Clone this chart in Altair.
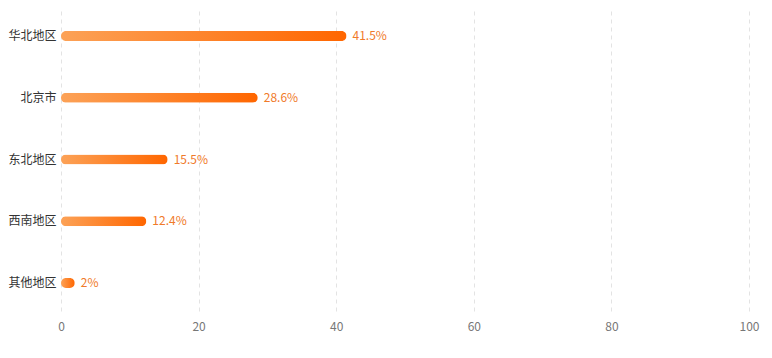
import altair as alt
import pandas as pd

regions = ["华北地区", "北京市", "东北地区", "西南地区", "其他地区"]
values = [41.5, 28.6, 15.5, 12.4, 2]
labels = ["41.5%", "28.6%", "15.5%", "12.4%", "2%"]

df = pd.DataFrame({"region": regions, "value": values, "label": labels})

FONT = "Noto Sans CJK SC"

y_enc = alt.Y("region:N", sort=None, title=None,
              scale=alt.Scale(paddingInner=0.5, paddingOuter=0.2034),
              axis=alt.Axis(domain=False, ticks=False, labelPadding=5,
                            labelFontSize=12, labelColor="#333333", labelFont=FONT))

bars = alt.Chart(df).mark_bar(
    size=10, cornerRadius=5,
    color=alt.Gradient(gradient="linear",
                       stops=[alt.GradientStop(color="#fca257", offset=0),
                              alt.GradientStop(color="#ff6600", offset=1)],
                       x1=0, x2=1, y1=0, y2=0)
).encode(
    x=alt.X("value:Q", title=None,
            scale=alt.Scale(domain=[0, 100]),
            axis=alt.Axis(values=[0, 20, 40, 60, 80, 100], domain=False, ticks=False,
                          grid=True, gridDash=[4, 4], gridColor="#e3e3e3",
                          labelFlush=False,
                          labelPadding=10, labelFontSize=12, labelColor="#777777",
                          labelFont=FONT)),
    y=y_enc,
)

text = alt.Chart(df).mark_text(
    align="left", baseline="middle", dx=6, fontSize=12, color="#f07a2a", font=FONT
).encode(
    x="value:Q",
    y=alt.Y("region:N", sort=None),
    text="label:N",
)

chart = alt.layer(bars, text).properties(
    width=688, height=303,
    autosize=alt.AutoSizeParams(type="none"),
    padding={"left": 53, "top": 0, "right": 15, "bottom": 30},
).configure_view(stroke=None)

chart.save("out.html", embed_options={"renderer": "svg", "actions": False})
